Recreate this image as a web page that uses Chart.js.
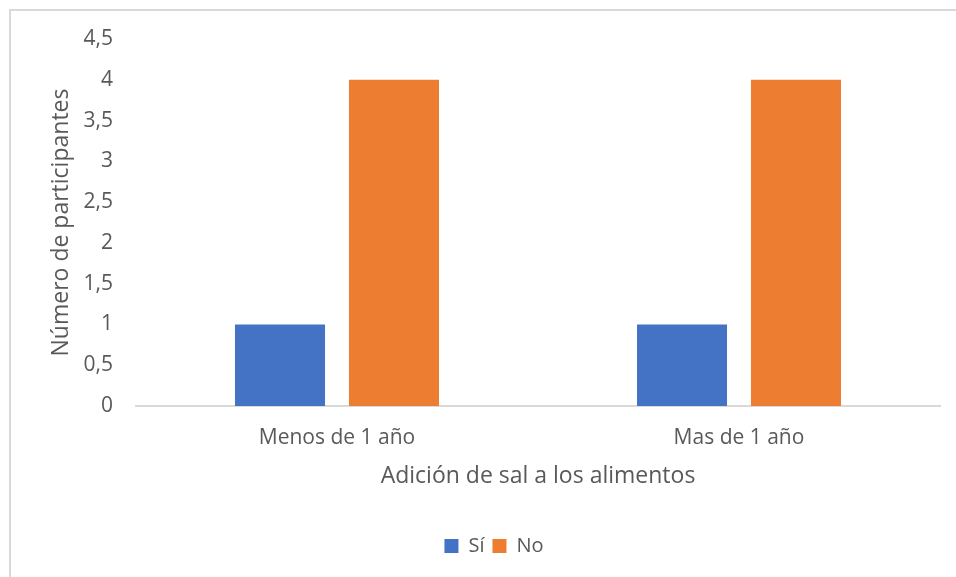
<!DOCTYPE html>
<html>
<head>
<meta charset="utf-8">
<script src="https://cdn.jsdelivr.net/npm/chart.js@4.4.0/dist/chart.umd.min.js"></script>
<style>
  html, body { margin: 0; padding: 0; background: #fff; overflow: hidden; }
  #wrap { position: relative; width: 956px; height: 577px; }
</style>
</head>
<body>
<div id="wrap"><canvas id="salChart" width="956" height="577"></canvas></div>
<script>
// datos: adición de sal según tiempo
const categorias = ['Menos de 1 año', 'Mas de 1 año'];
const valoresSi = [1, 1];
const valoresNo = [4, 4];
const tituloX = 'Adición de sal a los alimentos';
const tituloY = 'Número de participantes';

const gris = '#595959';
const fuente = '"Open Sans", Lato, sans-serif';

// marco exterior (solo lados izquierdo y superior visibles)
const marco = {
    id: 'marco',
    beforeDraw(chart) {
        const ctx = chart.ctx;
        ctx.save();
        ctx.fillStyle = '#ffffff';
        ctx.fillRect(0, 0, chart.width, chart.height);
        ctx.strokeStyle = '#d9d9d9';
        ctx.lineWidth = 2;
        ctx.beginPath();
        ctx.moveTo(10, chart.height);
        ctx.lineTo(10, 10);
        ctx.lineTo(chart.width, 10);
        ctx.stroke();
        ctx.restore();
    }
};

const ctx = document.getElementById('salChart').getContext('2d');

new Chart(ctx, {
    type: 'bar',
    data: {
        labels: categorias,
        datasets: [
            { label: 'Sí', data: valoresSi, backgroundColor: '#4472C4' },
            { label: 'No', data: valoresNo, backgroundColor: '#ED7D31' }
        ]
    },
    options: {
        responsive: false,
        animation: false,
        devicePixelRatio: 1,
        categoryPercentage: 0.567,
        barPercentage: 0.79,
        layout: { padding: { top: 39, right: 16, left: 48, bottom: 11 } },
        plugins: {
            tooltip: { enabled: false },
            legend: {
                position: 'bottom',
                labels: {
                    boxWidth: 14,
                    boxHeight: 14,
                    padding: 8,
                    color: gris,
                    font: { family: fuente, size: 20 }
                }
            }
        },
        scales: {
            x: {
                afterFit: (scale) => { scale.height = 122; },
                grid: { display: false, drawTicks: false },
                border: { display: true, color: '#d9d9d9', width: 2 },
                ticks: {
                    color: gris,
                    padding: 19,
                    font: { family: fuente, size: 21 }
                },
                title: {
                    display: true,
                    text: tituloX,
                    color: gris,
                    padding: { top: 0, bottom: 38 },
                    font: { family: fuente, size: 23 }
                }
            },
            y: {
                min: 0,
                max: 4.5,
                afterFit: (scale) => { scale.width = 88; },
                grid: { display: false, drawTicks: false },
                border: { display: false },
                ticks: {
                    stepSize: 0.5,
                    color: gris,
                    padding: 23,
                    font: { family: fuente, size: 21 },
                    callback: (v) => String(v).replace('.', ',')
                },
                title: {
                    display: true,
                    text: tituloY,
                    color: gris,
                    padding: { top: 0, bottom: 0 },
                    font: { family: fuente, size: 23 }
                }
            }
        }
    },
    plugins: [marco]
});
</script>
</body>
</html>
